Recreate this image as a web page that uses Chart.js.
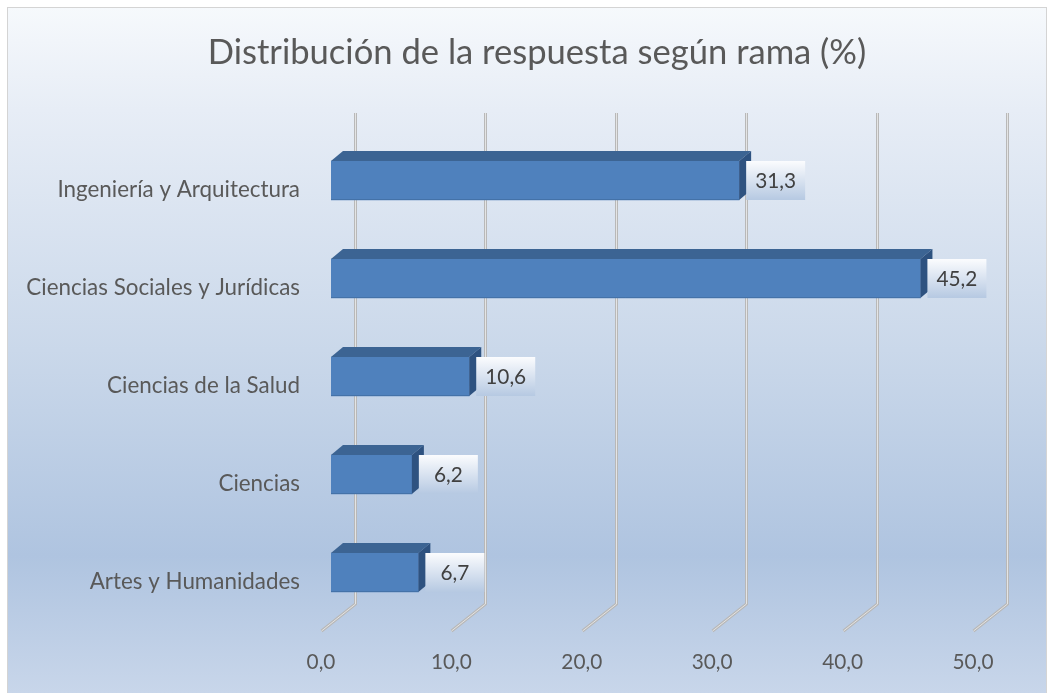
<!DOCTYPE html>
<html><head><meta charset="utf-8">
<script src="https://cdn.jsdelivr.net/npm/chart.js@4.4.0/dist/chart.umd.min.js"></script>
<style>html,body{margin:0;padding:0;background:#fff;}#wrap{width:1054px;height:693px;position:relative;}</style>
</head><body><div id="wrap"><canvas id="c" width="1054" height="693"></canvas></div>
<script>
const categories = ['Ingeniería y Arquitectura', 'Ciencias Sociales y Jurídicas', 'Ciencias de la Salud', 'Ciencias', 'Artes y Humanidades'];
const values = [31.3, 45.2, 10.6, 6.2, 6.7];
const xTicks = [0, 10, 20, 30, 40, 50];
const chartTitle = 'Distribución de la respuesta según rama (%)';

const FAMILY = 'Lato, "Open Sans", sans-serif';
function fitSize(text, target) {
  const cx = document.createElement('canvas').getContext('2d');
  cx.font = '100px ' + FAMILY;
  return Math.round(100 * target / cx.measureText(text).width * 10) / 10;
}
const titleSize = fitSize(chartTitle, 659);
const catSize = fitSize('Ingeniería y Arquitectura', 243);
const numSize = fitSize('20,0', 41);
const fmt = v => v.toFixed(1).replace('.', ',');

const DX = 12, DY = 10;

const bgPlugin = {
  id: 'bg',
  beforeDraw(chart) {
    const ctx = chart.ctx;
    ctx.save();
    ctx.fillStyle = '#ffffff';
    ctx.fillRect(0, 0, chart.width, chart.height);
    const g = ctx.createLinearGradient(0, 7, 0, 693);
    g.addColorStop(0, '#f6f9fc');
    g.addColorStop(0.15, '#e7edf6');
    g.addColorStop(0.5, '#cad8ea');
    g.addColorStop(0.8, '#afc4e0');
    g.addColorStop(1, '#c8d6ea');
    ctx.fillStyle = g;
    ctx.fillRect(7, 7, 1040, 690);
    ctx.strokeStyle = '#d4d4d4';
    ctx.lineWidth = 1;
    ctx.strokeRect(7.5, 7.5, 1039, 690);
    // chart title, centred on the whole chart box
    ctx.fillStyle = '#595959';
    ctx.font = titleSize + 'px ' + FAMILY;
    ctx.textAlign = 'center';
    ctx.textBaseline = 'middle';
    ctx.fillText(chartTitle, 537, 53);
    ctx.restore();
  }
};

const gridPlugin = {
  id: 'grid3d',
  beforeDatasetsDraw(chart) {
    const ctx = chart.ctx;
    const xs = chart.scales.x;
    ctx.save();
    ctx.lineJoin = 'miter';
    xTicks.forEach(v => {
      const xb = Math.round(xs.getPixelForValue(v)) + 24.5;
      const path = () => {
        ctx.beginPath();
        ctx.moveTo(xb, 113);
        ctx.lineTo(xb, 604);
        ctx.lineTo(xb - 34, 631);
      };
      ctx.strokeStyle = '#b8b8b8';
      ctx.lineWidth = 3;
      path(); ctx.stroke();
      ctx.strokeStyle = '#e4e4e4';
      ctx.lineWidth = 1;
      path(); ctx.stroke();
    });
    ctx.restore();
  }
};

const bar3dPlugin = {
  id: 'bar3d',
  afterDatasetsDraw(chart) {
    const ctx = chart.ctx;
    const meta = chart.getDatasetMeta(0);
    ctx.save();
    meta.data.forEach((bar, i) => {
      const p = bar.getProps(['x', 'y', 'base', 'height'], true);
      const x0 = p.base, x1 = p.x;
      const top = p.y - p.height / 2, bot = p.y + p.height / 2;
      ctx.fillStyle = '#3c6493';
      ctx.beginPath();
      ctx.moveTo(x0, top);
      ctx.lineTo(x0 + DX, top - DY);
      ctx.lineTo(x1 + DX, top - DY);
      ctx.lineTo(x1, top);
      ctx.closePath();
      ctx.fill();
      ctx.fillStyle = '#2e5280';
      ctx.beginPath();
      ctx.moveTo(x1, top);
      ctx.lineTo(x1 + DX, top - DY);
      ctx.lineTo(x1 + DX, bot - DY);
      ctx.lineTo(x1, bot);
      ctx.closePath();
      ctx.fill();
      ctx.strokeStyle = '#4472a8';
      ctx.lineWidth = 1;
      ctx.beginPath();
      ctx.moveTo(x0, bot - 0.5);
      ctx.lineTo(x1, bot - 0.5);
      ctx.stroke();
      const bx = x1 + 7, bw = 59;
      const g = ctx.createLinearGradient(0, top, 0, bot);
      g.addColorStop(0, '#fbfcfe');
      g.addColorStop(1, '#b6c9e2');
      ctx.fillStyle = g;
      ctx.fillRect(bx, top, bw, bot - top);
      ctx.fillStyle = '#404040';
      ctx.font = numSize + 'px ' + FAMILY;
      ctx.textAlign = 'center';
      ctx.textBaseline = 'middle';
      ctx.fillText(fmt(values[i]), bx + bw / 2, (top + bot) / 2 + 1);
    });
    ctx.restore();
  }
};

new Chart(document.getElementById('c'), {
  type: 'bar',
  data: {
    labels: categories,
    datasets: [{
      data: values,
      backgroundColor: '#4f81bd',
      borderWidth: 0,
      barThickness: 39
    }]
  },
  options: {
    indexAxis: 'y',
    responsive: false,
    animation: false,
    layout: { padding: { left: 0, right: 71, top: 131.5, bottom: 0 } },
    plugins: {
      legend: { display: false },
      tooltip: { enabled: false },
      title: { display: false }
    },
    scales: {
      x: {
        min: 0, max: 50,
        afterBuildTicks(scale) { scale.ticks = xTicks.map(v => ({ value: v })); },
        afterFit(scale) { scale.height = 71.5; },
        grid: { display: false, drawTicks: false },
        border: { display: false },
        ticks: {
          padding: 28,
          labelOffset: -10,
          color: '#595959',
          font: { family: FAMILY, size: numSize },
          callback: v => fmt(v)
        }
      },
      y: {
        afterFit(scale) { scale.width = 331; },
        grid: { display: false, drawTicks: false },
        border: { display: false },
        ticks: {
          padding: 31,
          labelOffset: 9.5,
          color: '#595959',
          font: { family: FAMILY, size: catSize }
        }
      }
    }
  },
  plugins: [bgPlugin, gridPlugin, bar3dPlugin]
});
</script>
</body></html>
